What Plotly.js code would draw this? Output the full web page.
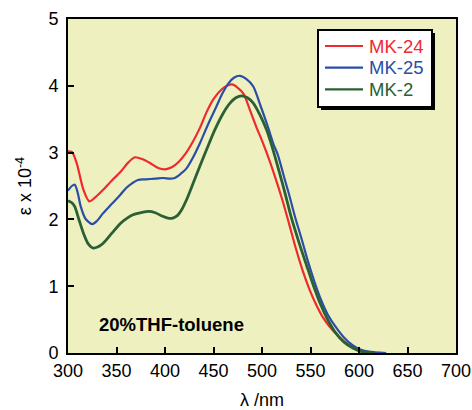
<!DOCTYPE html>
<html>
<head>
<meta charset="utf-8">
<script src="https://cdn.plot.ly/plotly-3.0.1.min.js"></script>
<style>html,body{margin:0;padding:0;background:#fff;}#chart{width:472px;height:410px;}</style>
</head>
<body>
<div id="chart"></div>
<script>
// MK-24 (red)
const mk24X = [300,304,309,316,322,328,336,345,354,362,369,377,385,393,400,407,414,421,429,436,443,450,458,464,469,475,481,488,494,500,506,512,521,528,535,542,549,556,563,570,577,584,591,597,604,612];
const mk24Y = [3.02,3.01,2.84,2.44,2.27,2.33,2.44,2.58,2.71,2.85,2.93,2.90,2.84,2.77,2.75,2.78,2.86,2.98,3.17,3.37,3.61,3.80,3.94,4.00,4.02,3.97,3.88,3.62,3.39,3.18,2.95,2.70,2.29,1.93,1.56,1.23,0.95,0.72,0.53,0.39,0.28,0.18,0.11,0.06,0.02,0.0];
// MK-25 (blue)
const mk25X = [300,304,307,310,313,318,325,330,336,345,354,360,366,372,380,390,398,405,410,416,422,429,436,444,453,459,465,471,477,484,491,498,506,512,516,524,528,534,541,547,554,561,568,576,584,593,600,610,628];
const mk25Y = [2.43,2.50,2.52,2.40,2.20,2.01,1.93,1.98,2.09,2.23,2.37,2.47,2.54,2.59,2.60,2.61,2.62,2.61,2.62,2.68,2.76,2.93,3.14,3.41,3.69,3.88,4.03,4.12,4.15,4.10,3.99,3.72,3.39,3.12,2.98,2.57,2.37,2.04,1.70,1.39,1.07,0.79,0.57,0.39,0.24,0.12,0.06,0.02,0.0];
// MK-2 (green)
const mk2X = [300,304,307,311,316,321,326,331,336,345,354,361,367,375,383,390,397,403,408,413,417,423,429,436,443,451,460,467,473,479,485,491,498,505,511,518,524,530,538,546,553,560,567,575,584,594,603,616];
const mk2Y = [2.28,2.25,2.19,2.01,1.79,1.63,1.57,1.59,1.64,1.79,1.94,2.02,2.07,2.10,2.12,2.10,2.05,2.02,2.02,2.06,2.14,2.32,2.54,2.80,3.05,3.33,3.59,3.74,3.82,3.85,3.82,3.74,3.56,3.33,3.06,2.70,2.38,2.04,1.66,1.31,1.01,0.74,0.52,0.32,0.17,0.07,0.02,0.0];

const seriesNames = ['MK-24','MK-25','MK-2'];
const seriesColors = ['#ee2a2e','#2a4ea5','#2b6034'];
const seriesWidths = [2.2,2.2,2.8];
const xs = [mk24X, mk25X, mk2X];
const ys = [mk24Y, mk25Y, mk2Y];

const xTicks = [300,350,400,450,500,550,600,650,700];
const yTicks = [0,1,2,3,4,5];

const FONT = 'Liberation Sans, Arial, sans-serif';

const traces = seriesNames.map((n,i)=>({
  x: xs[i], y: ys[i], type:'scatter', mode:'lines', name:n,
  line:{color:seriesColors[i], width:seriesWidths[i], shape:'spline', smoothing:0.8}
}));

const W=472,H=410,L=68,R=16,T=19,B=57;
const pw=W-L-R, ph=H-T-B;
function px(x){return (x-L)/pw;}
function py(y){return (H-B-y)/ph;}

// custom legend box (pixel layout)
const LG = {x0:318, x1:432, y0:30, y1:107, rowY:[46,67.7,89.3], lineX0:325, lineX1:363, textX:367};

const shapes = [
  {type:'rect', xref:'paper', yref:'paper', x0:px(LG.x0+3), x1:px(LG.x1+3), y0:py(LG.y1+3), y1:py(LG.y0+3),
   fillcolor:'#000', line:{width:0}, layer:'above'},
  {type:'rect', xref:'paper', yref:'paper', x0:px(LG.x0), x1:px(LG.x1), y0:py(LG.y1), y1:py(LG.y0),
   fillcolor:'#fff', line:{width:2,color:'#000'}, layer:'above'}
];
const annotations = [{
  xref:'x', yref:'y', x:407, y:0.42, text:'<b>20%THF-toluene</b>',
  showarrow:false, font:{family:FONT,size:18.5,color:'#000'}, xanchor:'center', yanchor:'middle'
}];
seriesNames.forEach((n,i)=>{
  shapes.push({type:'line', xref:'paper', yref:'paper', x0:px(LG.lineX0), x1:px(LG.lineX1),
    y0:py(LG.rowY[i]), y1:py(LG.rowY[i]), line:{color:seriesColors[i], width:2.2}, layer:'above'});
  annotations.push({xref:'paper', yref:'paper', x:px(LG.textX), y:py(LG.rowY[i]), text:n,
    showarrow:false, xanchor:'left', yanchor:'middle', font:{family:FONT,size:18.5,color:seriesColors[i]}});
});

const layout = {
  width:W, height:H,
  margin:{l:L,r:R,t:T,b:B,pad:0},
  paper_bgcolor:'#ffffff',
  plot_bgcolor:'#eff0c0',
  font:{family:FONT, size:18, color:'#000'},
  showlegend:false,
  xaxis:{range:[300,700], tickvals:xTicks, ticktext:xTicks.map(String),
    ticks:'inside', ticklen:6, tickwidth:2, tickcolor:'#000',
    showline:true, linecolor:'#000', linewidth:2, mirror:true,
    showgrid:false, zeroline:false,
    tickfont:{family:FONT,size:18},
    title:{text:'λ /nm', font:{family:FONT,size:18}, standoff:22}},
  yaxis:{range:[0,5], tickvals:yTicks, ticktext:yTicks.map(String),
    ticks:'inside', ticklen:6, tickwidth:2, tickcolor:'#000',
    showline:true, linecolor:'#000', linewidth:2, mirror:true,
    showgrid:false, zeroline:false, ticklabelstandoff:4,
    tickfont:{family:FONT,size:18},
    title:{text:'ε x 10<sup>-4</sup>', font:{family:FONT,size:18}, standoff:12}},
  annotations:annotations,
  shapes:shapes
};

Plotly.newPlot('chart', traces, layout, {staticPlot:true, displayModeBar:false});
</script>
</body>
</html>
